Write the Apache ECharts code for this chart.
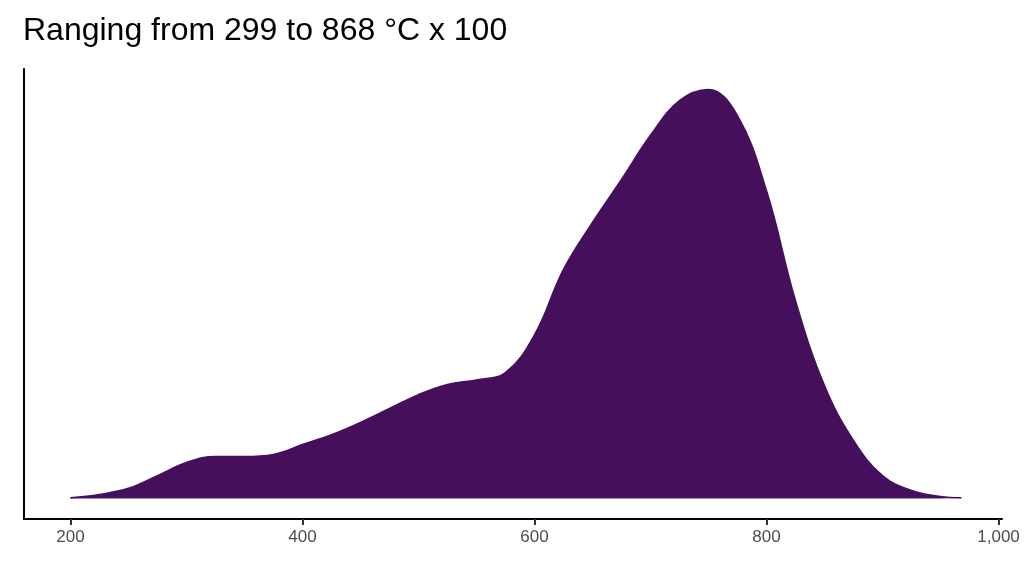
<!DOCTYPE html>
<html><head><meta charset="utf-8">
<script src="https://cdn.jsdelivr.net/npm/echarts@6/dist/echarts.min.js"></script>
<style>html,body{margin:0;padding:0;background:#fff}#c{width:1024px;height:576px}</style>
</head><body><div id="c"></div>
<script>
const xs = [200,225,250,275,300,325,350,375,400,425,450,475,500,525,550,575,600,625,650,675,700,725,750,775,800,825,850,875,900,925,950,968];
const dens = [0.002,0.01,0.025,0.056,0.088,0.103,0.103,0.108,0.132,0.156,0.186,0.22,0.254,0.279,0.29,0.308,0.4,0.56,0.675,0.78,0.888,0.973,1.0,0.936,0.753,0.484,0.276,0.142,0.056,0.02,0.005,0.002];
const xTicks = [200,400,600,800,1000];
const chart = echarts.init(document.getElementById('c'));
chart.setOption({
  animation:false,
  title:{text:'Ranging from 299 to 868 °C x 100',left:18,top:10,textStyle:{fontFamily:'Liberation Sans',fontSize:32,fontWeight:'normal',color:'#000'}},
  grid:{left:24,right:22,top:69,bottom:57},
  xAxis:{type:'value',min:160,max:1003,
    axisLine:{onZero:false,lineStyle:{color:'#000',width:2}},
    axisTick:{show:true,length:6,lineStyle:{color:'#333',width:2},customValues:xTicks},
    axisLabel:{fontFamily:'Liberation Sans',fontSize:17,color:'#4d4d4d',margin:10,customValues:xTicks},
    splitLine:{show:false}},
  yAxis:{type:'value',min:-0.05,max:1.05,
    axisLine:{show:true,lineStyle:{color:'#000',width:2}},
    axisTick:{show:false},axisLabel:{show:false},splitLine:{show:false}},
  series:[{type:'line',data:xs.map((x,i)=>[x,dens[i]]),smooth:0.4,symbol:'none',
    lineStyle:{color:'#440f5c',width:1.5},
    areaStyle:{color:'#460f5c',opacity:1,origin:0}}]
});
</script></body></html>
